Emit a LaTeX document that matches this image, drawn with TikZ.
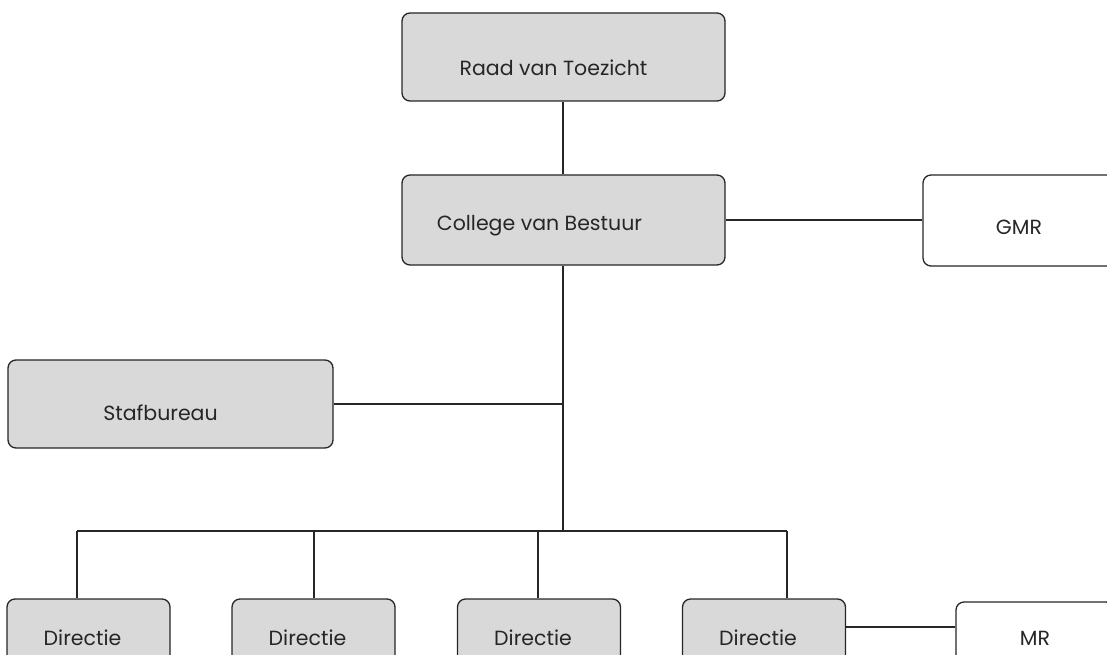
\documentclass[tikz,border=0pt]{standalone}
\usepackage{fontspec}
\setmainfont{Poppins}
\usetikzlibrary{positioning,calc}
\definecolor{boxgrey}{HTML}{D9D9D9}
\definecolor{lijn}{HTML}{262626}

\begin{document}
\begin{tikzpicture}[x=1pt, y=-1pt,
    orgbox/.style={rectangle, draw=lijn, line width=1.3pt, rounded corners=8pt, fill=boxgrey, inner sep=0pt, minimum width=323pt, minimum height=88pt},
    raadbox/.style={orgbox, fill=white},
    dirbox/.style={orgbox, minimum width=163pt},
    boxtext/.style={font=\fontsize{20.5}{24}\selectfont, text=lijn, inner sep=0pt},
    line/.style={draw=lijn, line width=1.3pt}
]
    \useasboundingbox (0,0) rectangle (1107,655);
    \clip (0,0) rectangle (1107,655);

    \node[orgbox, label={[boxtext, xshift=-10pt, yshift=-11pt]center:Raad van Toezicht}] (raad) at (563.5,57) {};
    \node[orgbox, minimum height=90pt, label={[boxtext, xshift=-24pt, yshift=-6pt]center:College van Bestuur}] (college) at (563.5,220) {};
    \node[raadbox, minimum width=192pt, minimum height=91pt, label={[boxtext, yshift=-7pt]center:GMR}] (gmr) at (1019,220.5) {};
    \node[orgbox, minimum width=325pt, minimum height=88pt, label={[boxtext, xshift=-10pt, yshift=-9pt]center:Stafbureau}] (staf) at (170.5,404) {};

    \node[dirbox, label={[boxtext, xshift=-6pt, yshift=5pt]center:Directie}] (dir1) at (88.5,643) {};
    \node[dirbox, label={[boxtext, xshift=-6pt, yshift=5pt]center:Directie}] (dir2) at (313.5,643) {};
    \node[dirbox, label={[boxtext, xshift=-6pt, yshift=5pt]center:Directie}] (dir3) at (539,643) {};
    \node[dirbox, label={[boxtext, xshift=-6pt, yshift=5pt]center:Directie}] (dir4) at (764,643) {};
    \node[raadbox, minimum width=158pt, label={[boxtext, yshift=8pt]center:MR}] (mr) at (1035,646) {};

    \coordinate (bus) at (563,531);
    \coordinate (t1) at (77,531);
    \coordinate (t2) at (314,531);
    \coordinate (t3) at (538,531);
    \coordinate (t4) at (787,531);

    \draw[line] (bus |- raad.south) -- (bus |- college.north);
    \draw[line] (college.east) -- (college.east -| gmr.west);
    \draw[line] (bus |- college.south) -- (bus);
    \draw[line] (staf.east) -- (staf.east -| bus);
    \draw[line] (t1) -- (t4);
    \foreach \i in {1,...,4}
        \draw[line] (t\i) -- (t\i |- dir\i.north);
    \draw[line] ([yshift=16pt]dir4.east) -- ([yshift=16pt]dir4.east -| mr.west);
\end{tikzpicture}
\end{document}
